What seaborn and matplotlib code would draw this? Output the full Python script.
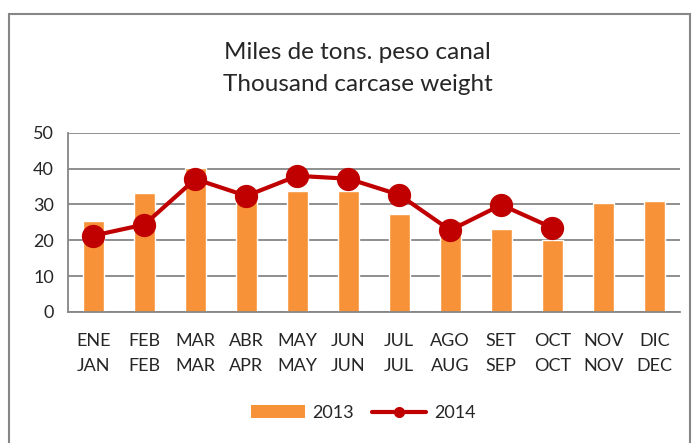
import matplotlib
matplotlib.use("Agg")
import matplotlib.pyplot as plt
import seaborn as sns
import pandas as pd
import numpy as np
from matplotlib.patches import Rectangle, Patch
from matplotlib.lines import Line2D

# Datos (miles de toneladas peso canal)
meses = ["ENE\nJAN", "FEB\nFEB", "MAR\nMAR", "ABR\nAPR", "MAY\nMAY", "JUN\nJUN",
         "JUL\nJUL", "AGO\nAUG", "SET\nSEP", "OCT\nOCT", "NOV\nNOV", "DIC\nDEC"]
valores_2013 = [25.3, 33.3, 40.3, 31.8, 33.8, 33.9, 27.4, 25.4, 23.1, 20.2, 30.4, 31.1]
valores_2014 = [21.3, 24.4, 37.1, 32.4, 38.0, 37.2, 32.7, 22.8, 29.9, 23.5]

color_2013 = "#F79239"
color_2014 = "#C00000"
gris = "#868686"

sns.set_style("white")
plt.rcParams["font.family"] = ["Lato", "DejaVu Sans"]

fig = plt.figure(figsize=(7, 4.43), dpi=100)
ax = fig.add_axes([0.097, 0.296, 0.874, 0.404])

df13 = pd.DataFrame({"mes": meses, "valor": valores_2013})
sns.barplot(data=df13, x="mes", y="valor", order=meses, color=color_2013,
            saturation=1, width=0.41, ax=ax, zorder=2)

df14 = pd.DataFrame({"mes": meses[:len(valores_2014)], "valor": valores_2014})
sns.pointplot(data=df14, x="mes", y="valor", order=meses, color=color_2014,
              markers="o", markersize=14.5, linewidth=3, errorbar=None, ax=ax)
for c in ax.collections + ax.lines:
    c.set_zorder(3)

ax.set_ylim(0, 50)
ax.set_xlim(-0.5, 11.5)
ax.set_yticks(range(0, 51, 10))
ax.set_xlabel("")
ax.set_ylabel("")
ax.yaxis.grid(True, color=gris, linewidth=1.3, zorder=0)
ax.set_axisbelow(True)
for s in ["top", "right"]:
    ax.spines[s].set_visible(False)
for s in ["left", "bottom"]:
    ax.spines[s].set_color(gris)
    ax.spines[s].set_linewidth(1.3)

ax.set_xticks(range(12))
ax.set_xticklabels(meses, fontsize=13, linespacing=1.7)
ax.set_xticks(np.arange(-0.5, 12, 1), minor=True)
ax.tick_params(axis="x", which="major", length=0, pad=15)
ax.tick_params(axis="x", which="minor", length=6, color=gris, width=1.3)
ax.tick_params(axis="y", length=6, color=gris, width=1.3, labelsize=13, pad=4)

fig.text(0.511, 0.846, "Miles de tons. peso canal\nThousand carcase weight",
         ha="center", va="center", fontsize=17.5, linespacing=1.65)

handles = [Patch(facecolor=color_2013, edgecolor="none"),
           Line2D([0], [0], color=color_2014, linewidth=3, marker="o", markersize=7)]
fig.legend(handles, ["2013", "2014"], loc="center", bbox_to_anchor=(0.519, 0.068),
           ncol=2, frameon=False, fontsize=13, handlelength=3.0, handleheight=0.7,
           columnspacing=1.0, handletextpad=0.4)

fig.patches.append(Rectangle((9 / 700, -0.05), 681 / 700, 1.05 - 14 / 443,
                             transform=fig.transFigure, fill=False,
                             edgecolor=gris, linewidth=1.5))

fig.savefig("out.png", dpi=100)
